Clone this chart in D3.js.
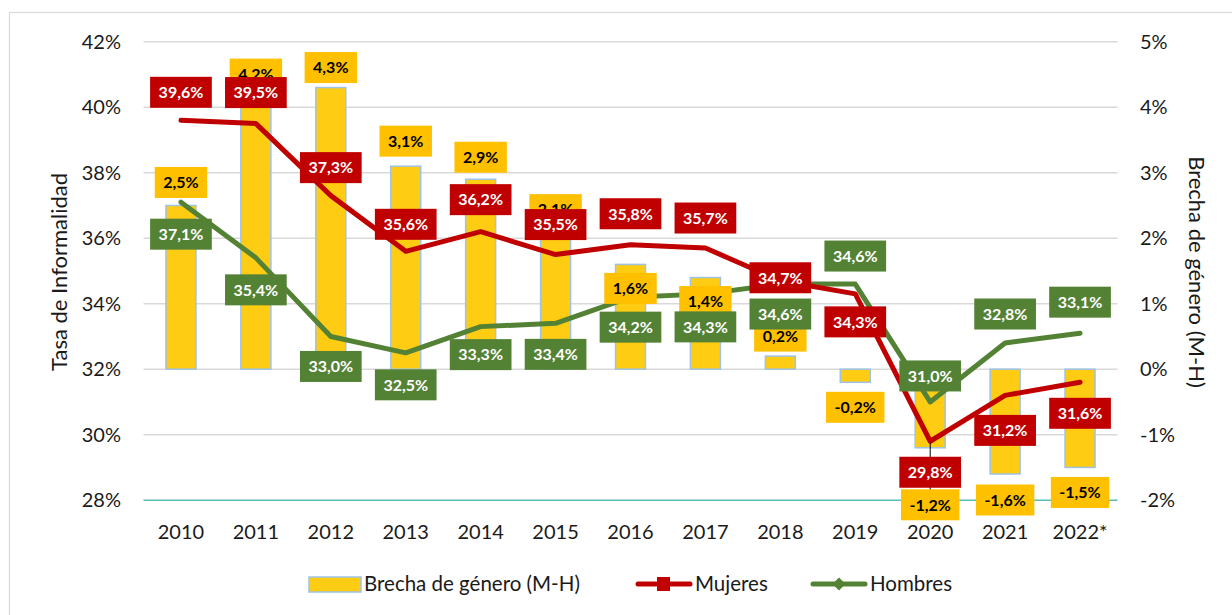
<!DOCTYPE html>
<html>
<head>
<meta charset="utf-8">
<script src="https://cdn.jsdelivr.net/npm/d3@7"></script>
<style>
  body { margin: 0; background: #fff; }
  svg { font-family: Lato, "Open Sans", sans-serif; }
</style>
</head>
<body>
<svg id="chart" width="1232" height="615"></svg>
<script>
// data
const years = ["2010", "2011", "2012", "2013", "2014", "2015", "2016", "2017", "2018", "2019", "2020", "2021", "2022*"]
const mujeres = [39.6, 39.5, 37.3, 35.6, 36.2, 35.5, 35.8, 35.7, 34.7, 34.3, 29.8, 31.2, 31.6]
const hombres = [37.1, 35.4, 33.0, 32.5, 33.3, 33.4, 34.2, 34.3, 34.6, 34.6, 31.0, 32.8, 33.1]
const brecha = [2.5, 4.2, 4.3, 3.1, 2.9, 2.1, 1.6, 1.4, 0.2, -0.2, -1.2, -1.6, -1.5]
const leftTicks = [28, 30, 32, 34, 36, 38, 40, 42]
const rightTicks = [-2, -1, 0, 1, 2, 3, 4, 5]

// label offsets (px) from each point, as placed in the original
const dyMujeres = [-28, -31, -28, -27, -32, -30, -31, -30, -3, 28, 31, 35, 31]
const dyHombres = [32, 32, 30, 32, 28, 31, 30, 33, 30, -28, -26, -29, -31]
const dyBrecha = [-23, -20, -20, -25, -22, -22, 24, 24, -20, 25, 57, 26, 25]

const red = "#C00000", green = "#548235", gold = "#FFC000"

const svg = d3.select("#chart")
const margin = { left: 143.5, right: 1232 - 1117.5, top: 41.7, bottom: 615 - 500.2 }

const x = d3.scaleBand().domain(years).range([margin.left, 1232 - margin.right])
const yL = d3.scaleLinear().domain([28, 42]).range([615 - margin.bottom, margin.top])
const yR = d3.scaleLinear().domain([-2, 5]).range([615 - margin.bottom, margin.top])
const cx = d => x(d) + x.bandwidth() / 2
const fmt = v => v.toFixed(1).replace(".", ",") + "%"

// outer frame
svg.append("rect").attr("x", 9.5).attr("y", 12.5).attr("width", 1240).attr("height", 620)
  .attr("fill", "none").attr("stroke", "#d9d9d9").attr("stroke-width", 1.2)

// gridlines
svg.append("g").selectAll("line").data(leftTicks.filter(t => t > 28)).join("line")
  .attr("x1", margin.left).attr("x2", 1232 - margin.right)
  .attr("y1", d => yL(d)).attr("y2", d => yL(d))
  .attr("stroke", "#d9d9d9").attr("stroke-width", 1.5)

// left ticks
svg.append("g").selectAll("text").data(leftTicks).join("text")
  .attr("x", 121).attr("y", d => yL(d)).attr("dy", "0.35em")
  .attr("text-anchor", "end").attr("font-size", 20).attr("fill", "#1a1a1a")
  .text(d => d + "%")

// right ticks
svg.append("g").selectAll("text").data(rightTicks).join("text")
  .attr("x", 1140).attr("y", d => yR(d)).attr("dy", "0.35em")
  .attr("text-anchor", "start").attr("font-size", 20).attr("fill", "#1a1a1a")
  .text(d => d + "%")

// x labels
svg.append("g").selectAll("text").data(years).join("text")
  .attr("x", d => cx(d)).attr("y", 539)
  .attr("text-anchor", "middle").attr("font-size", 20).attr("fill", "#1a1a1a")
  .text(d => d)

// axis titles
svg.append("text").attr("transform", "translate(67,272) rotate(-90)")
  .attr("text-anchor", "middle").attr("font-size", 22).attr("fill", "#1a1a1a")
  .text("Tasa de Informalidad")
svg.append("text").attr("transform", "translate(1189,272) rotate(90)")
  .attr("text-anchor", "middle").attr("font-size", 22).attr("fill", "#1a1a1a")
  .text("Brecha de género (M-H)")

// bars
const bw = 30
svg.append("g").selectAll("rect").data(brecha).join("rect")
  .attr("x", (d, i) => cx(years[i]) - bw / 2)
  .attr("y", d => yR(Math.max(0, d)))
  .attr("width", bw)
  .attr("height", d => Math.abs(yR(d) - yR(0)))
  .attr("fill", "#FFCC14").attr("stroke", "#9DC3E6").attr("stroke-width", 1.5)

// bottom axis line
svg.append("line").attr("x1", margin.left).attr("x2", 1232 - margin.right)
  .attr("y1", yL(28)).attr("y2", yL(28))
  .attr("stroke", "#5BBDB1").attr("stroke-width", 1.5)

// lines
const lineL = vals => d3.line().x((d, i) => cx(years[i])).y(d => yL(d))(vals)
svg.append("path").attr("d", lineL(hombres)).attr("fill", "none")
  .attr("stroke", green).attr("stroke-width", 5).attr("stroke-linejoin", "round").attr("stroke-linecap", "round")
svg.append("path").attr("d", lineL(mujeres)).attr("fill", "none")
  .attr("stroke", red).attr("stroke-width", 5).attr("stroke-linejoin", "round").attr("stroke-linecap", "round")

// leader line for 2020 gap label
const li = years.indexOf("2020")
svg.append("line").attr("x1", cx(years[li])).attr("x2", cx(years[li]))
  .attr("y1", yR(brecha[li]) - 5).attr("y2", yR(brecha[li]) + dyBrecha[li] - 14)
  .attr("stroke", "#000").attr("stroke-width", 1)

function labels(vals, ys, dys, bg, color) {
  const g = svg.append("g")
  vals.forEach((v, i) => {
    const lx = cx(years[i]), ly = ys(v) + dys[i]
    const box = g.append("rect").attr("fill", bg)
    const t = g.append("text").attr("x", lx).attr("y", ly).attr("dy", "0.36em")
      .attr("text-anchor", "middle").attr("font-size", 16).attr("font-weight", "bold")
      .attr("fill", color).text(fmt(v))
    const w = t.node().getComputedTextLength() + 17
    box.attr("x", lx - w / 2).attr("y", ly - 15.5).attr("width", w).attr("height", 31)
  })
}
labels(brecha, yR, dyBrecha, gold, "#000")
labels(hombres, yL, dyHombres, green, "#fff")
labels(mujeres, yL, dyMujeres, red, "#fff")

// legend
const lg = svg.append("g").attr("font-size", 20.5).attr("fill", "#1a1a1a")
lg.append("rect").attr("x", 309).attr("y", 577).attr("width", 52).attr("height", 15)
  .attr("fill", "#FFCC14").attr("stroke", "#9DC3E6").attr("stroke-width", 1.5)
lg.append("text").attr("x", 364).attr("y", 584).attr("dy", "0.35em").text("Brecha de género (M-H)")
lg.append("line").attr("x1", 638).attr("x2", 690).attr("y1", 584).attr("y2", 584)
  .attr("stroke", red).attr("stroke-width", 5).attr("stroke-linecap", "round")
lg.append("rect").attr("x", 657).attr("y", 577).attr("width", 13).attr("height", 14).attr("fill", red)
lg.append("text").attr("x", 695).attr("y", 584).attr("dy", "0.35em").text("Mujeres")
lg.append("line").attr("x1", 813).attr("x2", 865).attr("y1", 584).attr("y2", 584)
  .attr("stroke", green).attr("stroke-width", 5).attr("stroke-linecap", "round")
lg.append("path").attr("d", d3.symbol(d3.symbolDiamond2, 110)()).attr("transform", "translate(839,584)").attr("fill", green)
lg.append("text").attr("x", 870).attr("y", 584).attr("dy", "0.35em").text("Hombres")
</script>
</body>
</html>
